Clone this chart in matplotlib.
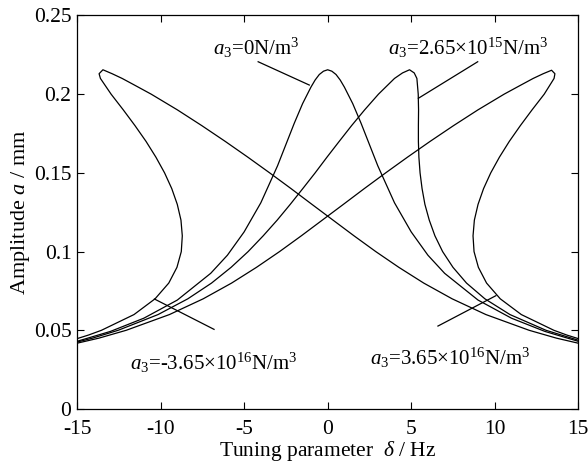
import matplotlib
matplotlib.use("Agg")
import matplotlib.pyplot as plt

plt.rcParams['font.family'] = ['Liberation Serif', 'DejaVu Serif']
plt.rcParams['mathtext.fontset'] = 'custom'
plt.rcParams['mathtext.rm'] = 'Liberation Serif'
plt.rcParams['mathtext.it'] = 'Liberation Serif:italic'
plt.rcParams['axes.unicode_minus'] = False

# a3 = 0 N/m^3
z_d = [-15.0, -13.0, -11.0, -9.0, -7.0, -6.0, -5.0, -4.0, -3.0, -2.5, -2.0, -1.5, -1.0, -0.75, -0.5, -0.25, 0.0,
       0.25, 0.5, 0.75, 1.0, 1.5, 2.0, 2.5, 3.0, 4.0, 5.0, 6.0, 7.0, 9.0, 11.0, 13.0, 15.0]
z_a = [0.0430, 0.0493, 0.0577, 0.0692, 0.0862, 0.0977, 0.1125, 0.1310, 0.1545, 0.1680, 0.1815, 0.1940, 0.2045, 0.2090, 0.2125, 0.2146, 0.2155,
       0.2146, 0.2125, 0.2090, 0.2045, 0.1940, 0.1815, 0.1680, 0.1545, 0.1310, 0.1125, 0.0977, 0.0862, 0.0692, 0.0577, 0.0493, 0.0430]

# a3 = 2.65e15 N/m^3
m_d = [-15.0, -14.08, -12.54, -10.15, -8.37, -6.95, -5.78, -4.76, -3.86, -3.02, -2.24, -1.49, -0.75, -0.04,
       0.69, 1.43, 2.21, 3.04, 4.0, 4.48, 4.9, 5.18, 5.34, 5.42, 5.44, 5.43, 5.43, 5.46, 5.53, 5.65, 5.82,
       6.08, 6.42, 6.88, 7.5, 8.31, 9.41, 10.91, 13.07, 15.0]
m_a = [0.0425, 0.045, 0.050, 0.060, 0.070, 0.080, 0.090, 0.100, 0.110, 0.120, 0.130, 0.140, 0.150, 0.160,
       0.170, 0.180, 0.190, 0.200, 0.210, 0.2135, 0.2155, 0.2135, 0.210, 0.200, 0.190, 0.180, 0.170, 0.160, 0.150, 0.140, 0.130,
       0.120, 0.110, 0.100, 0.090, 0.080, 0.070, 0.060, 0.050, 0.0437]

# a3 = 3.65e16 N/m^3
p_d = [-15.0, -13.7, -12.06, -9.47, -7.45, -5.75, -4.26, -2.88, -1.58, -0.32, 0.94, 2.19, 3.47, 4.78,
       6.13, 7.53, 8.99, 10.56, 11.6, 12.3, 12.9, 13.4, 13.6, 13.55, 12.96, 12.23, 11.53, 10.87, 10.28,
       9.76, 9.33, 9.0, 8.78, 8.70, 8.76, 9.02, 9.51, 10.33, 11.59, 13.54, 14.31, 15.0]
p_a = [0.0418, 0.045, 0.050, 0.060, 0.070, 0.080, 0.090, 0.100, 0.110, 0.120, 0.130, 0.140, 0.150, 0.160,
       0.170, 0.180, 0.190, 0.200, 0.206, 0.210, 0.213, 0.2152, 0.213, 0.210, 0.200, 0.190, 0.180, 0.170, 0.160,
       0.150, 0.140, 0.130, 0.120, 0.110, 0.100, 0.090, 0.080, 0.070, 0.060, 0.050, 0.047, 0.0447]

# a3 = -3.65e16 N/m^3
n_d = [-15.0, -14.31, -13.54, -11.59, -10.33, -9.51, -9.02, -8.76, -8.70, -8.78, -9.0, -9.33, -9.76,
       -10.28, -10.87, -11.53, -12.23, -12.96, -13.6, -13.68, -13.45, -12.9, -12.3, -11.6, -10.56, -8.99,
       -7.53, -6.13, -4.78, -3.47, -2.19, -0.94, 0.32, 1.58, 2.88, 4.26, 5.75, 7.45, 9.47, 12.06, 13.7, 15.0]
n_a = [0.0447, 0.047, 0.050, 0.060, 0.070, 0.080, 0.090, 0.100, 0.110, 0.120, 0.130, 0.140, 0.150,
       0.160, 0.170, 0.180, 0.190, 0.200, 0.210, 0.213, 0.2155, 0.213, 0.210, 0.206, 0.200, 0.190,
       0.180, 0.170, 0.160, 0.150, 0.140, 0.130, 0.120, 0.110, 0.100, 0.090, 0.080, 0.070, 0.060, 0.050, 0.045, 0.0418]

xticks = [-15, -10, -5, 0, 5, 10, 15]
yticks = [0, 0.05, 0.1, 0.15, 0.2, 0.25]
ytick_labels = ['0', '0.05', '0.1', '0.15', '0.2', '0.25']

fig = plt.figure(figsize=(5.88, 4.63), dpi=100)
ax = fig.add_axes([0.131, 0.1166, 0.8525, 0.85])

for d, a in [(z_d, z_a), (m_d, m_a), (p_d, p_a), (n_d, n_a)]:
    ax.plot(d, a, color='black', lw=0.9)

# labels with pointer lines
fs = 15.5
afs = 15
ax.plot([-4.16, -1.10], [0.2206, 0.2058], color='black', lw=0.9)
ax.text(-6.88, 0.2249, r'$a_3$=0N/m$^3$', fontsize=afs, va='baseline', ha='left')
ax.plot([8.98, 5.43], [0.2206, 0.1974], color='black', lw=0.9)
ax.text(3.63, 0.2249, r'$a_3$=2.65$\times$10$^{15}$N/m$^3$', fontsize=afs, va='baseline', ha='left')
ax.plot([-10.37, -6.8], [0.0699, 0.0506], color='black', lw=0.9)
ax.text(-11.85, 0.0248, r'$a_3$=-3.65$\times$10$^{16}$N/m$^3$', fontsize=afs, va='baseline', ha='left')
ax.plot([10.07, 6.6], [0.072, 0.0527], color='black', lw=0.9)
ax.text(2.54, 0.028, r'$a_3$=3.65$\times$10$^{16}$N/m$^3$', fontsize=afs, va='baseline', ha='left')

ax.set_xlim(-15, 15)
ax.set_ylim(0, 0.25)
ax.set_xticks(xticks)
ax.set_xticklabels([str(t) for t in xticks])
ax.set_yticks(yticks)
ax.set_yticklabels(ytick_labels)
ax.tick_params(axis='x', pad=8)
ax.tick_params(axis='y', pad=4)
ax.tick_params(direction='in', top=True, right=True, labelsize=fs, length=5, width=0.8)
for s in ax.spines.values():
    s.set_linewidth(0.9)

ax.set_xlabel(r'Tuning parameter  $\delta$ / Hz', fontsize=fs, labelpad=0)
ax.set_ylabel(r'Amplitude $a$ / mm', fontsize=16, labelpad=1)

fig.savefig('out.png', dpi=100)
